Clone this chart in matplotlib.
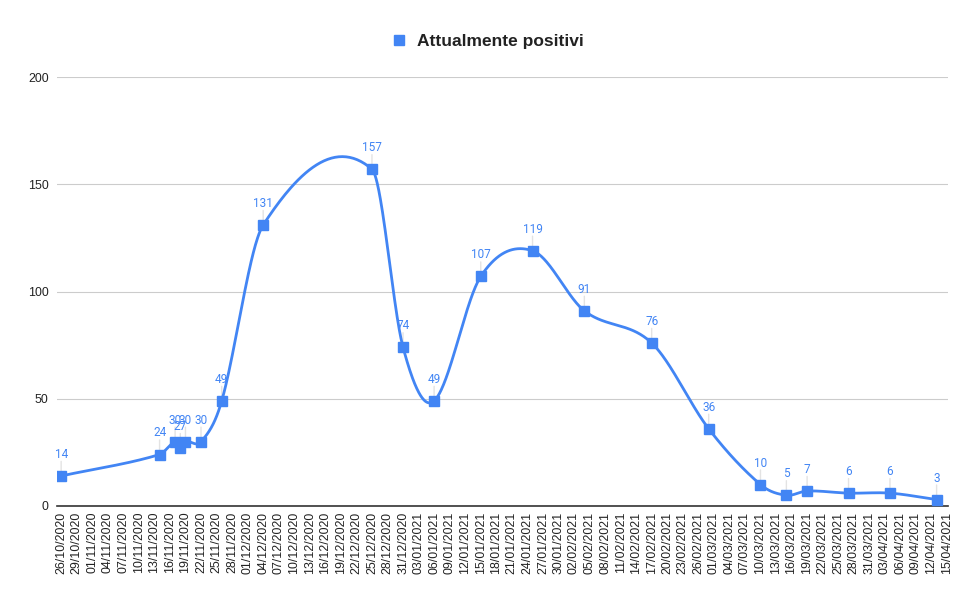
import numpy as np
import matplotlib
matplotlib.use("Agg")
import matplotlib.pyplot as plt
import matplotlib.dates as mdates
from matplotlib.lines import Line2D
import datetime as dt

dates = ["26/10/2020", "14/11/2020", "17/11/2020", "18/11/2020", "19/11/2020",
         "22/11/2020", "26/11/2020", "04/12/2020", "25/12/2020", "31/12/2020",
         "06/01/2021", "15/01/2021", "25/01/2021", "04/02/2021", "17/02/2021",
         "28/02/2021", "10/03/2021", "15/03/2021", "19/03/2021", "27/03/2021",
         "04/04/2021", "13/04/2021"]
values = [14, 24, 30, 27, 30, 30, 49, 131, 157, 74, 49, 107, 119, 91, 76, 36,
          10, 5, 7, 6, 6, 3]
series_name = "Attualmente positivi"
tick_start = "26/10/2020"
tick_end = "15/04/2021"
tick_step_days = 3
yticks = [0, 50, 100, 150, 200]

color = "#4285F4"

def parse(s):
    return dt.datetime.strptime(s, "%d/%m/%Y")

xd = np.array([mdates.date2num(parse(d)) for d in dates])
yv = np.array(values, dtype=float)

# smooth curve: cubic Hermite through the points, tangents from neighbours
n = len(xd)
m = np.zeros(n)
for i in range(n):
    if i == 0:
        m[i] = (yv[1] - yv[0]) / (xd[1] - xd[0])
    elif i == n - 1:
        m[i] = (yv[-1] - yv[-2]) / (xd[-1] - xd[-2])
    else:
        m[i] = (yv[i + 1] - yv[i - 1]) / (xd[i + 1] - xd[i - 1])
xs, ys = [], []
t = np.linspace(0, 1, 60)
h00 = 2 * t**3 - 3 * t**2 + 1
h10 = t**3 - 2 * t**2 + t
h01 = -2 * t**3 + 3 * t**2
h11 = t**3 - t**2
for i in range(n - 1):
    h = xd[i + 1] - xd[i]
    xs.append(xd[i] + t * h)
    ys.append(h00 * yv[i] + h10 * h * m[i] + h01 * yv[i + 1] + h11 * h * m[i + 1])
xs = np.concatenate(xs)
ys = np.concatenate(ys)

W, H = 979, 605
fig = plt.figure(figsize=(W / 100, H / 100), dpi=100)
ax = fig.add_axes([57 / W, 1 - 506 / H, (948 - 57) / W, (506 - 77) / H])

t0 = mdates.date2num(parse(tick_start))
t1 = mdates.date2num(parse(tick_end))
ax.set_xlim(t0 - 0.8, t1 + 0.2)
ax.set_ylim(0, 200)

ax.plot(xs, ys, color=color, lw=2, zorder=3)
ax.plot(xd, yv, ls="none", marker="s", ms=7.5, color=color, zorder=4)

for x, y in zip(xd, yv):
    ax.annotate(str(int(y)), xy=(x, y), xytext=(0, 15.5), textcoords="offset points",
                ha="center", va="center", fontsize=8.5, color=color, zorder=5,
                fontfamily="Roboto")
    ax.annotate("", xy=(x, y), xytext=(0, 10.5), textcoords="offset points",
                arrowprops=dict(arrowstyle="-", color="#e3e3e3", lw=1,
                                shrinkA=0, shrinkB=3), zorder=2)

ticks = np.arange(t0, t1 + 0.5, tick_step_days)
ax.set_xticks(ticks)
ax.set_xticklabels([mdates.num2date(tk).strftime("%d/%m/%Y") for tk in ticks],
                   rotation=90, fontsize=8.9, fontfamily="Liberation Sans", color="#222222")
ax.set_yticks(yticks)
ax.set_yticklabels([str(v) for v in yticks], fontsize=8.9, fontfamily="Liberation Sans",
                   color="#222222")
ax.tick_params(axis="both", length=0, pad=6)
ax.tick_params(axis="x", pad=4)
ax.grid(axis="y", color="#cccccc", lw=0.8)
ax.set_axisbelow(True)
for sp in ["top", "right", "left"]:
    ax.spines[sp].set_visible(False)
ax.spines["bottom"].set_color("#333333")
ax.spines["bottom"].set_linewidth(1.2)

handle = Line2D([], [], ls="none", marker="s", ms=7, color=color)
fig.legend([handle], [series_name], loc="center", bbox_to_anchor=(487 / W, 1 - 41 / H),
           frameon=False, prop=dict(family="Liberation Sans", weight="bold", size=12.5),
           handletextpad=0.5, handlelength=1.0, labelcolor="#222222")

fig.savefig("out.png", dpi=100, facecolor="white")
